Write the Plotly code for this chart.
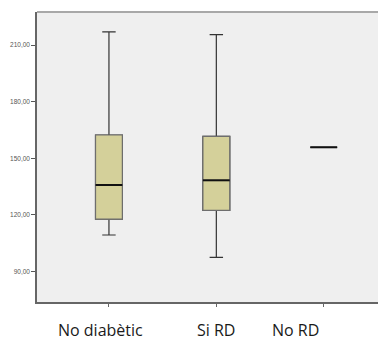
import plotly.graph_objects as go

categories = ["No diabètic", "Si RD", "No RD"]
q1 = [117.7, 122.4, 155.8]
median = [135.8, 138.3, 155.8]
q3 = [162.3, 161.6, 155.8]
lower = [109.3, 97.5, 155.8]
upper = [217.0, 215.5, 155.8]
ytick_vals = [90, 120, 150, 180, 210]
ytick_text = ["90,00", "120,00", "150,00", "180,00", "210,00"]

xpos = list(range(len(categories)))
box_w = 0.25

fig = go.Figure()
# whiskers (dark)
fig.add_trace(go.Box(
    x=xpos, q1=q1, median=median, q3=q3, lowerfence=lower, upperfence=upper,
    width=box_w, whiskerwidth=0.5,
    fillcolor="#d4d09a", line=dict(color="#333333", width=1.2),
    boxpoints=False, showlegend=False, hoverinfo="skip",
))
# box body (lighter outline)
fig.add_trace(go.Box(
    x=xpos, q1=q1, median=median, q3=q3, lowerfence=q1, upperfence=q3,
    width=box_w, whiskerwidth=0,
    fillcolor="#d4d09a", line=dict(color="#6e6e6e", width=1.2),
    boxpoints=False, showlegend=False, hoverinfo="skip",
))
for i, m in enumerate(median):
    fig.add_trace(go.Scatter(
        x=[xpos[i] - box_w / 2, xpos[i] + box_w / 2], y=[m, m],
        mode="lines", line=dict(color="#111111", width=2),
        showlegend=False, hoverinfo="skip",
    ))

label_shift = [-8, 0, -28]
for i, c in enumerate(categories):
    fig.add_annotation(
        x=xpos[i], xref="x", y=-0.098, yref="paper", text=c, showarrow=False,
        xshift=label_shift[i], yanchor="middle",
        font=dict(family="Open Sans", size=16, color="#1a1a1a"),
    )

fig.add_shape(type="line", xref="paper", yref="paper", x0=0, x1=1, y0=1, y1=1,
              line=dict(color="#a8a8a8", width=2))

# page body has an 8px default margin: compensate
fig.update_layout(
    width=378, height=335,
    margin=dict(l=29, r=0, t=4, b=41),
    paper_bgcolor="white", plot_bgcolor="#efefef",
    xaxis=dict(range=[-0.67, 2.58], tickvals=xpos, ticktext=["", "", ""],
               showgrid=False, zeroline=False, showline=True, linecolor="#666666",
               linewidth=1.5, ticks="outside", ticklen=3, tickcolor="#666666"),
    yaxis=dict(range=[73.8, 227.5], tickvals=ytick_vals, ticktext=ytick_text,
               showgrid=False, zeroline=False, showline=True, linecolor="#666666",
               linewidth=1.5, ticks="outside", ticklen=4, tickcolor="#555555",
               ticklabelstandoff=0,
               tickfont=dict(family="Liberation Sans", size=6.5, color="#555555")),
)

fig.write_html("out.html")
